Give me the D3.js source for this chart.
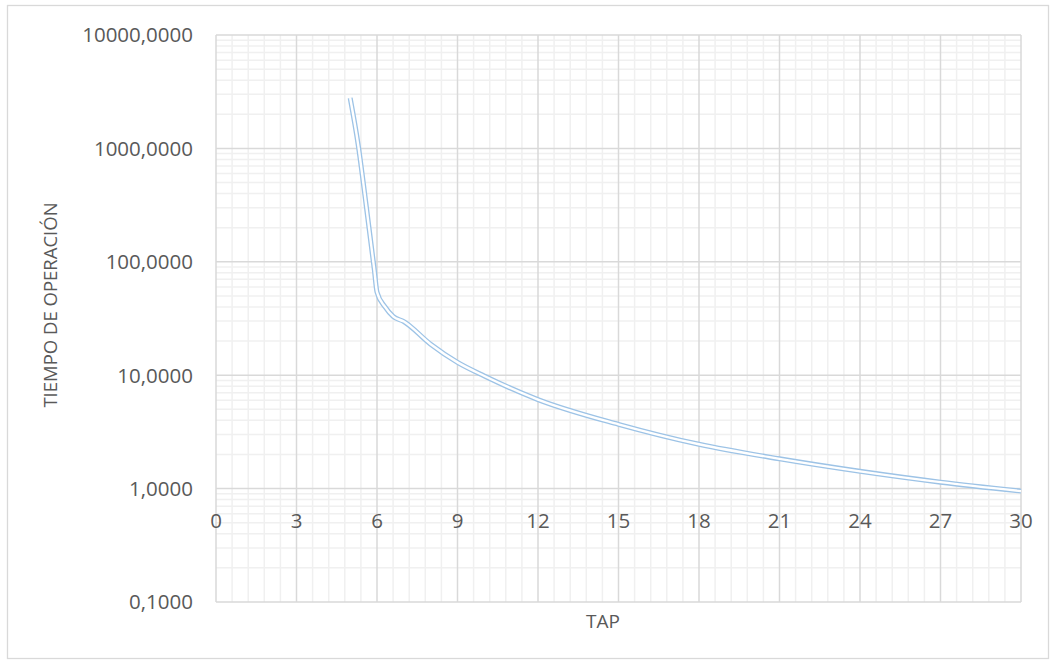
<!DOCTYPE html>
<html>
<head>
<meta charset="utf-8">
<script src="https://cdn.jsdelivr.net/npm/d3@7"></script>
<style>
  body { margin: 0; background: #fff; }
  text { font-family: "Open Sans", sans-serif; fill: #595959; }
</style>
</head>
<body>
<div id="chart"></div>
<script>
//// ============================ DATA ============================ ////

var tap = [5.0, 5.3, 5.6, 5.9, 6.0, 6.3, 6.6, 7, 8, 9, 10, 12, 15, 18, 21, 24, 27, 30];
var tiempo = [2780, 1070, 310, 85, 54, 40, 33, 29.7, 18.75, 12.97, 9.84, 6.10, 3.69, 2.46, 1.83, 1.42, 1.14, 0.95];

var xTicks = [0, 3, 6, 9, 12, 15, 18, 21, 24, 27, 30];
var yTicks = [0.1, 1, 10, 100, 1000, 10000];
var yTickLabels = ["0,1000", "1,0000", "10,0000", "100,0000", "1000,0000", "10000,0000"];

var xTitle = "TAP";
var yTitle = "TIEMPO DE OPERACIÓN";

//// ============================ LAYOUT ============================ ////

var width = 1057;
var height = 666;
var plotLeft = 216, plotRight = 1021, plotTop = 35, plotBottom = 602;

var svg = d3.select("#chart").append("svg")
    .attr("width", width)
    .attr("height", height);

// outer chart border
svg.append("rect")
    .attr("x", 7.5)
    .attr("y", 5.5)
    .attr("width", 1041)
    .attr("height", 653)
    .attr("fill", "#fff")
    .attr("stroke", "#d9d9d9")
    .attr("stroke-width", 1.3);

var x = d3.scaleLinear().domain([0, 30]).range([plotLeft, plotRight]);
var y = d3.scaleLog().domain([0.1, 10000]).range([plotBottom, plotTop]);

//// ============================ GRID ============================ ////

var grid = svg.append("g");

// minor vertical lines every 0.6
var minorX = d3.range(0, 30.001, 0.6).filter(function(v) {
    return Math.abs(v / 3 - Math.round(v / 3)) > 0.01;
});
grid.selectAll(".vminor")
    .data(minorX)
    .enter().append("line")
    .attr("x1", function(d) { return x(d); })
    .attr("x2", function(d) { return x(d); })
    .attr("y1", plotTop)
    .attr("y2", plotBottom)
    .attr("stroke", "#f0f0f0")
    .attr("stroke-width", 1.5);

// minor horizontal lines (2..9 of each decade)
var minorY = [];
yTicks.slice(0, -1).forEach(function(dec) {
    for (var k = 2; k <= 9; k++) minorY.push(dec * k);
});
grid.selectAll(".hminor")
    .data(minorY)
    .enter().append("line")
    .attr("x1", plotLeft)
    .attr("x2", plotRight)
    .attr("y1", function(d) { return y(d); })
    .attr("y2", function(d) { return y(d); })
    .attr("stroke", "#f0f0f0")
    .attr("stroke-width", 1.5);

// major lines
grid.selectAll(".vmajor")
    .data(xTicks)
    .enter().append("line")
    .attr("x1", function(d) { return x(d); })
    .attr("x2", function(d) { return x(d); })
    .attr("y1", plotTop)
    .attr("y2", plotBottom)
    .attr("stroke", "#d9d9d9")
    .attr("stroke-width", 1.5);

grid.selectAll(".hmajor")
    .data(yTicks)
    .enter().append("line")
    .attr("x1", plotLeft)
    .attr("x2", plotRight)
    .attr("y1", function(d) { return y(d); })
    .attr("y2", function(d) { return y(d); })
    .attr("stroke", "#d9d9d9")
    .attr("stroke-width", 1.5);

//// ============================ LABELS ============================ ////

svg.selectAll(".ylab")
    .data(yTicks)
    .enter().append("text")
    .attr("x", plotLeft - 23)
    .attr("y", function(d) { return y(d); })
    .attr("dy", "0.36em")
    .attr("text-anchor", "end")
    .style("font-size", "20.5px")
    .text(function(d, i) { return yTickLabels[i]; });

svg.selectAll(".xlab")
    .data(xTicks)
    .enter().append("text")
    .attr("x", function(d) { return x(d); })
    .attr("y", y(1) + 39)
    .attr("text-anchor", "middle")
    .style("font-size", "20.5px")
    .text(function(d) { return d; });

svg.append("text")
    .attr("x", 603)
    .attr("y", 628)
    .attr("text-anchor", "middle")
    .style("font-size", "19px")
    .text(xTitle);

svg.append("text")
    .attr("transform", "translate(57,305) rotate(-90)")
    .attr("text-anchor", "middle")
    .style("font-size", "18.5px")
    .text(yTitle);

//// ============================ CURVE ============================ ////

var points = tap.map(function(t, i) { return [t, tiempo[i]]; });

var line = d3.line()
    .x(function(d) { return x(d[0]); })
    .y(function(d) { return y(d[1]); })
    .curve(d3.curveMonotoneX);

// double compound line: wide blue stroke with a white core
svg.append("path")
    .datum(points)
    .attr("d", line)
    .attr("fill", "none")
    .attr("stroke", "#9dc3e6")
    .attr("stroke-width", 5)
    .attr("stroke-linecap", "butt");

svg.append("path")
    .datum(points)
    .attr("d", line)
    .attr("fill", "none")
    .attr("stroke", "#fff")
    .attr("stroke-width", 2.4)
    .attr("stroke-linecap", "butt");
</script>
</body>
</html>
